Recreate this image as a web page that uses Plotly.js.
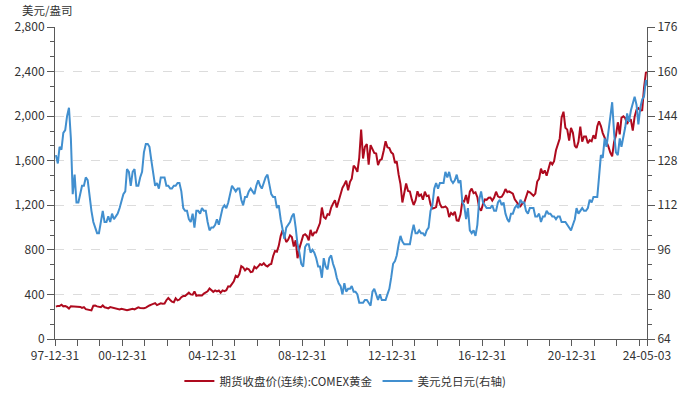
<!DOCTYPE html>
<html>
<head>
<meta charset="utf-8">
<script src="https://cdn.plot.ly/plotly-3.0.1.min.js"></script>
<style>html,body{margin:0;padding:0;background:#fff;}#chart{width:688px;height:397px;}</style>
</head>
<body>
<div id="chart"></div>
<script>
// Monthly series, Jan 1998 .. Apr 2024, plus the final day 2024-05-03
const startYear = 1998;
const gold = [
290,297,296,308,293,296,288,273,294,292,294,288,
287,288,279,286,268,262,256,257,299,300,293,289,
285,301,285,280,275,286,282,274,274,270,266,272,
266,262,258,263,268,271,265,273,284,279,275,276,
282,296,301,308,316,322,304,310,320,317,319,348,
368,350,335,330,365,347,354,375,385,386,398,416,
400,397,427,388,393,395,391,408,416,428,453,438,
423,436,428,435,415,436,430,438,473,470,495,518,
568,556,583,654,643,615,633,626,600,604,648,634,
652,672,663,680,660,650,667,673,745,790,784,836,
925,975,925,870,890,930,915,830,885,725,815,880,
930,940,925,885,980,925,955,955,1007,1040,1180,1095,
1080,1120,1115,1180,1215,1245,1180,1248,1307,1357,1386,1420,
1334,1410,1438,1556,1536,1500,1628,1880,1620,1725,1750,1565,
1740,1710,1670,1665,1560,1605,1615,1690,1775,1720,1713,1675,
1660,1580,1595,1475,1390,1225,1315,1395,1328,1324,1253,1202,
1244,1326,1284,1296,1250,1322,1282,1287,1210,1171,1175,1184,
1278,1212,1183,1182,1190,1172,1095,1132,1115,1142,1065,1061,
1116,1238,1234,1293,1216,1322,1350,1309,1316,1273,1173,1152,
1211,1253,1249,1268,1270,1242,1269,1322,1280,1270,1277,1303,
1345,1318,1325,1316,1305,1253,1224,1206,1192,1215,1223,1282,
1325,1316,1298,1285,1305,1413,1437,1529,1485,1513,1465,1523,
1589,1566,1596,1694,1751,1800,1986,2040,1895,1879,1780,1895,
1850,1734,1715,1769,1905,1771,1817,1818,1757,1784,1774,1829,
1796,1909,1954,1911,1848,1807,1781,1726,1672,1640,1768,1826,
1945,1836,1986,1999,1982,1929,1970,1966,1870,1996,2057,2072,
2050,2054,2250,2390,
2395];
const usdjpy = [
130,127,133,132,138,139,144,147,136,116,123,113,
113,116,119,119,122,121,115,110,106,104,102,102,
107,110,106,106,108,106,109,107,108,109,111,114,
116,117,125,124,119,124,125,119,119,122,124,131,
134,134,133,128,124,119,120,118,122,122,122,119,
119,118,118,119,119,120,120,117,111,110,110,107,
106,109,104,110,110,109,111,110,110,106,103,104,
104,105,107,105,108,111,112,111,113,116,119,118,
117,118,118,114,112,115,115,117,118,117,116,119,
121,119,118,120,122,123,119,116,115,115,111,112,
107,104,100,104,105,106,108,109,104,98,95,91,
90,97,98,98,95,96,95,93,90,90,86,93,
90,89,93,94,91,89,86,84,83,80,84,81,
82,82,83,81,81,80,77,77,77,78,78,77,
76,81,82,80,78,80,78,78,78,80,82,86,
91,92,94,98,101,99,98,98,98,98,102,105,
102,102,103,102,102,101,103,104,110,112,118,120,
118,120,120,120,124,122,124,121,120,121,123,120,
121,113,112,107,111,103,102,103,101,105,114,117,
113,112,111,111,111,112,110,110,113,114,112,113,
109,107,106,109,109,111,112,111,114,113,113,110,
109,111,111,111,108,108,109,106,108,108,110,109,
109,108,108,107,108,108,106,106,106,105,104,103,
105,107,111,109,110,111,110,110,111,114,113,115,
115,115,122,130,129,136,133,139,145,149,138,131,
130,136,133,136,140,145,142,146,149,151,148,141,
147,150,151,157,
155];

const dates = [];
for (let i = 0; i < gold.length - 1; i++) {
  const y = startYear + Math.floor(i / 12), m = i % 12 + 1;
  dates.push(y + '-' + String(m).padStart(2, '0') + '-15');
}
dates.push('2024-05-03');

const tickLabelYears = [1997, 2000, 2004, 2008, 2012, 2016, 2020];
const xTickVals = [], xTickText = [];
for (let y = 1997; y <= 2023; y++) {
  xTickVals.push(y + '-12-31');
  xTickText.push(tickLabelYears.includes(y) ? String(y).slice(2) + '-12-31' : '');
}
xTickVals.push('2024-05-03');
xTickText.push('24-05-03');

const seriesNames = ['期货收盘价(连续):COMEX黄金', '美元兑日元(右轴)'];
const leftTitle = '美元/盎司';

const font = {family: 'Noto Sans CJK SC, Noto Sans, sans-serif', size: 11.5, color: '#333'};
const tickFont = {family: 'Noto Sans CJK SC, Noto Sans, sans-serif', size: 12, color: '#333'};
const axisColor = '#595959';

const traces = [
  {x: dates, y: gold, name: seriesNames[0], type: 'scatter', mode: 'lines',
   line: {color: '#AE0A1E', width: 2}, yaxis: 'y'},
  {x: dates, y: usdjpy, name: seriesNames[1], type: 'scatter', mode: 'lines',
   line: {color: '#418FCF', width: 2}, yaxis: 'y2'}
];

const layout = {
  width: 688, height: 397,
  margin: {l: 55, r: 41, t: 27, b: 58, autoexpand: false},
  paper_bgcolor: '#fff', plot_bgcolor: '#fff',
  font: font,
  showlegend: true,
  legend: {orientation: 'h', xref: 'container', yref: 'container',
           x: 0.502, xanchor: 'center', y: 0.04, yanchor: 'middle',
           font: font, itemwidth: 30, traceorder: 'normal'},
  xaxis: {type: 'date', range: ['1997-12-31', '2024-05-03'],
          tickmode: 'array', tickvals: xTickVals, ticktext: xTickText,
          ticks: 'outside', ticklen: 6, tickcolor: axisColor, showgrid: false,
          showline: true, linecolor: axisColor, linewidth: 1, zeroline: false,
          tickfont: tickFont, automargin: false},
  yaxis: {range: [0, 2800], tickmode: 'linear', tick0: 0, dtick: 400, tickformat: ',',
          ticks: 'outside', ticklen: 7, tickcolor: axisColor,
          showline: true, linecolor: axisColor, linewidth: 1, zeroline: false,
          showgrid: true, gridcolor: '#dcdcdc', griddash: 'dash', gridwidth: 1,
          minor: {dtick: 400/3, tick0: 0, ticks: 'outside', ticklen: 4, tickcolor: axisColor, showgrid: false},
          tickfont: tickFont, automargin: false},
  yaxis2: {range: [64, 176], overlaying: 'y', side: 'right', tickmode: 'linear', tick0: 64, dtick: 16,
           ticks: 'outside', ticklen: 7, tickcolor: axisColor,
           showline: true, linecolor: axisColor, linewidth: 1, zeroline: false, showgrid: false,
           minor: {dtick: 16/3, tick0: 64, ticks: 'outside', ticklen: 4, tickcolor: axisColor, showgrid: false},
           tickfont: tickFont, automargin: false},
  annotations: [{text: leftTitle, xref: 'paper', yref: 'paper', x: -0.012, y: 1.055,
                 xanchor: 'center', yanchor: 'middle', showarrow: false, font: font}]
};

Plotly.newPlot('chart', traces, layout, {displayModeBar: false, staticPlot: true});
</script>
</body>
</html>
